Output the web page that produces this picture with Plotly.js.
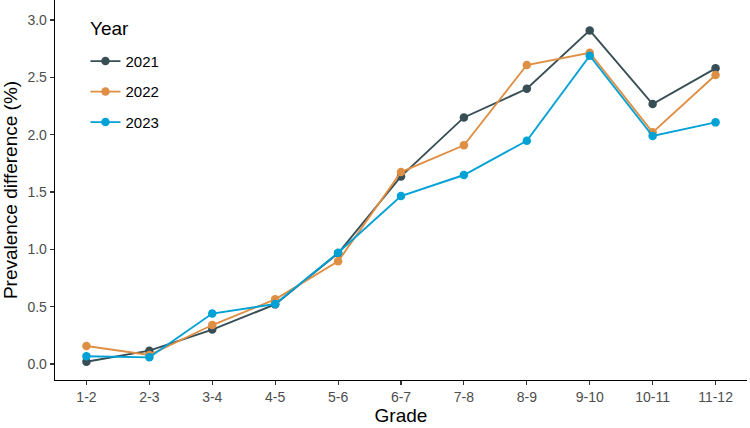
<!DOCTYPE html>
<html>
<head>
<meta charset="utf-8">
<script src="https://cdn.plot.ly/plotly-3.0.1.min.js"></script>
<style>html,body{margin:0;padding:0;background:#fff;}#chart{width:750px;height:428px;}</style>
</head>
<body>
<div id="chart"></div>
<script>
const grades = ["1-2","2-3","3-4","4-5","5-6","6-7","7-8","8-9","9-10","10-11","11-12"];
const years = ["2021","2022","2023"];
const y2021 = [0.02, 0.116, 0.30, 0.52, 0.965, 1.636, 2.15, 2.40, 2.909, 2.267, 2.578];
const y2022 = [0.157, 0.078, 0.34, 0.564, 0.895, 1.674, 1.907, 2.607, 2.714, 2.02, 2.52];
const y2023 = [0.067, 0.058, 0.44, 0.523, 0.97, 1.465, 1.648, 1.947, 2.688, 1.988, 2.107];
const colors = ["#374E55", "#DF8F44", "#00A1D5"];
const series = [y2021, y2022, y2023];

const traces = series.map((vals, i) => ({
  type: "scatter",
  mode: "lines+markers",
  x: grades,
  y: vals,
  name: years[i],
  legendgroup: years[i],
  line: {color: colors[i], width: 1.9},
  marker: {color: colors[i], size: 8.5}
}));

const font = "Liberation Sans, Arial, sans-serif";
const layout = {
  width: 750, height: 428,
  margin: {l: 55, r: 3, t: 0, b: 48},
  paper_bgcolor: "#fff", plot_bgcolor: "#fff",
  font: {family: font, color: "#000"},
  showlegend: true,
  legend: {
    font: {size: 15, color: "#000"},
    x: 0.044, y: 0.882, xanchor: "left", yanchor: "top",
    bgcolor: "rgba(0,0,0,0)",
    traceorder: "grouped",
    tracegroupgap: 8
  },
  annotations: [{
    text: "Year", xref: "paper", yref: "paper",
    x: 0.0477, y: 0.9237, xanchor: "left", yanchor: "middle",
    showarrow: false, font: {size: 19, color: "#000", family: font}
  }],
  xaxis: {
    type: "category",
    range: [-0.5, 10.5],
    showline: true, linecolor: "#000", linewidth: 1.3,
    ticks: "outside", ticklen: 4, tickcolor: "#333", tickwidth: 1.1,
    showgrid: false, zeroline: false,
    tickfont: {size: 14, color: "#4D4D4D", family: font},
    title: {text: "Grade", font: {size: 19, color: "#000", family: font}, standoff: 3}
  },
  yaxis: {
    range: [-0.1395, 3.174],
    tickvals: [0, 0.5, 1, 1.5, 2, 2.5, 3],
    ticktext: ["0.0","0.5","1.0","1.5","2.0","2.5","3.0"],
    showline: true, linecolor: "#000", linewidth: 1.3,
    ticks: "outside", ticklen: 4, tickcolor: "#333", tickwidth: 1.1,
    showgrid: false, zeroline: false,
    tickfont: {size: 14, color: "#4D4D4D", family: font},
    title: {text: "Prevalence difference (%)", font: {size: 19, color: "#000", family: font}, standoff: 4}
  }
};

Plotly.newPlot("chart", traces, layout, {staticPlot: true, displayModeBar: false});
</script>
</body>
</html>
